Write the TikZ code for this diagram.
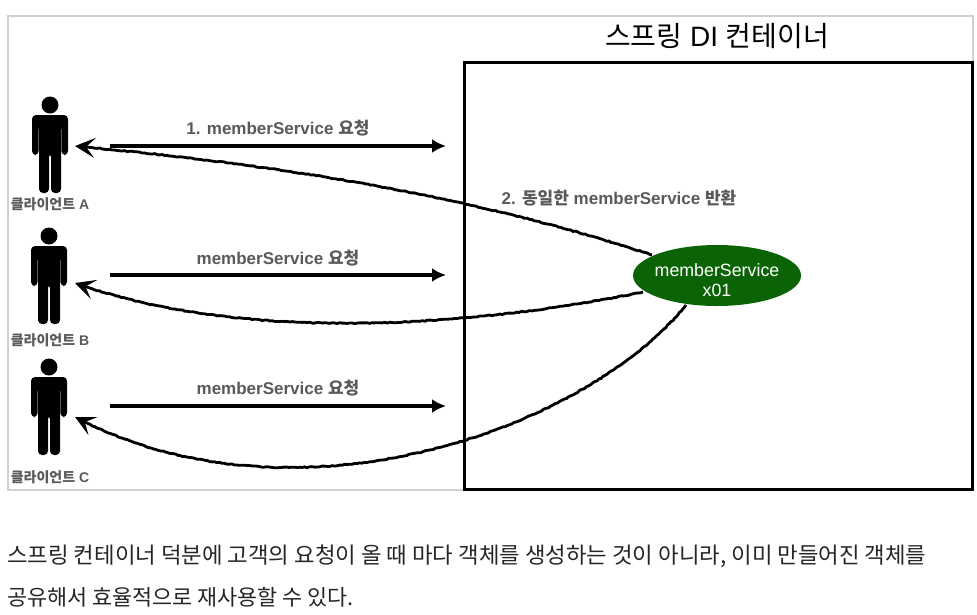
\documentclass[tikz,border=0pt]{standalone}
\usepackage{fontspec}
\setmainfont{Liberation Sans}
\newfontfamily\kr{Noto Sans CJK KR}
\usetikzlibrary{arrows.meta,shapes.geometric,decorations.pathmorphing}
\definecolor{lbl}{RGB}{90,90,90}
\definecolor{grn}{RGB}{10,100,5}
\tikzset{
 x=1pt,y=-1pt,
 pplbl/.style={font=\fontsize{14}{15}\selectfont\bfseries,text=lbl,inner sep=0pt},
 reqlbl/.style={font=\fontsize{17}{19}\selectfont\bfseries,text=lbl,inner sep=0pt},
 req/.style={line width=3.4pt,-{Latex[length=14pt,width=14pt]}},
 ret/.style={line width=2.8pt,black,-{Stealth[length=20pt,width=20pt,inset=9pt]},
   decoration={random steps,segment length=2.5pt,amplitude=.5pt,post=lineto,post length=16pt},decorate},
 para/.style={text=black!85,inner sep=0pt,anchor=west},
 person/.pic={
  \fill (0,-42) circle (8.5);
  \fill[rounded corners=4pt] (-18,-32) -- (18,-32) -- (18,8) -- (11.5,8) -- (11.5,-22) -- (11,-22) -- (11,46) -- (1,46) -- (1,6) -- (-1,6) -- (-1,46) -- (-11,46) -- (-11,-22) -- (-11.5,-22) -- (-11.5,8) -- (-18,8) -- cycle;
 }
}
\begin{document}
\begin{tikzpicture}
\useasboundingbox (0,0) rectangle (977,614);
\fill[white] (0,0) rectangle (977,614);
\draw[line width=1.6pt,black!18] (8,16) rectangle (973,490);
\draw[line width=3pt] (464,62) rectangle (972,489);
\node[inner sep=0pt,font=\fontsize{28}{32}\selectfont] (title) at (717,36) {{\kr 스프링} DI {\kr 컨테이너}};
\pic at (50,147) {person};
\pic at (49,278) {person};
\pic at (49,409) {person};
\node[pplbl] (ca) at (50,204) {{\kr 클라이언트} A};
\node[pplbl] (cb) at (50,340) {{\kr 클라이언트} B};
\node[pplbl] (cc) at (50,477) {{\kr 클라이언트} C};
\coordinate (a0) at (110,146); \coordinate (a1) at (446,146);
\coordinate (b0) at (110,275); \coordinate (b1) at (446,275);
\coordinate (c0) at (110,406); \coordinate (c1) at (446,406);
\coordinate (ra) at (75,146); \coordinate (rb) at (75,283); \coordinate (rc) at (75,417);
\coordinate (ea) at (652,255); \coordinate (eb) at (643,292); \coordinate (ec) at (686,305);
\draw[req] (a0) -- (a1);
\draw[req] (b0) -- (b1);
\draw[req] (c0) -- (c1);
\node[reqlbl] (l1) at (278,128) {1. memberService {\kr 요청}};
\node[reqlbl] (l2) at (278,258) {memberService {\kr 요청}};
\node[reqlbl] (l3) at (278,388) {memberService {\kr 요청}};
\node[reqlbl] (l4) at (619,198) {2. {\kr 동일한} memberService {\kr 반환}};
\draw[ret] (ea) .. controls (470,195) and (280,165) .. (ra);
\draw[ret] (eb) .. controls (480,325) and (250,345) .. (rb);
\draw[ret] (ec) .. controls (590,425) and (300,535) .. (rc);
\node[ellipse,fill=grn,minimum width=168pt,minimum height=61pt,inner sep=0pt] (ms) at (717,275.5) {};
\node[text=white,inner sep=0pt,align=center,font=\fontsize{17.8}{20}\selectfont] (mst) at (717,280) {memberService\\x01};
\node[para,font=\fontsize{22.35}{25}\selectfont\kr] (p1) at (7,556) {스프링 컨테이너 덕분에 고객의 요청이 올 때 마다 객체를 생성하는 것이 아니라, 이미 만들어진 객체를};
\node[para,font=\fontsize{21.8}{25}\selectfont\kr] (p2) at (7,597) {공유해서 효율적으로 재사용할 수 있다.};
\end{tikzpicture}
\end{document}
